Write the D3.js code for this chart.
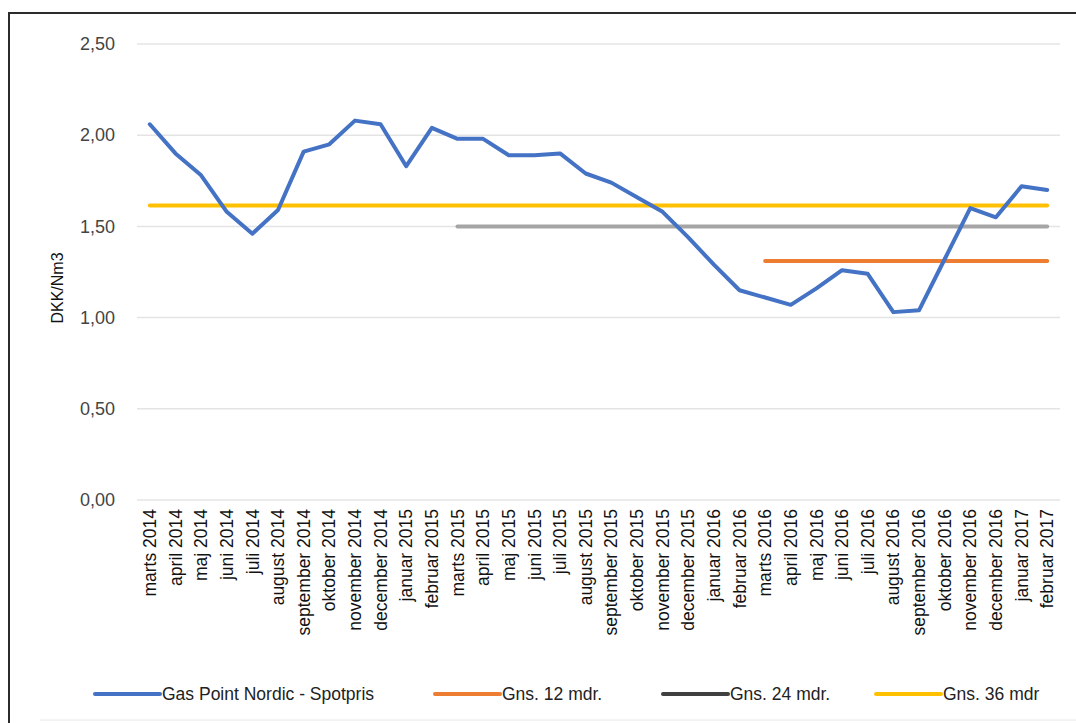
<!DOCTYPE html>
<html>
<head>
<meta charset="utf-8">
<script src="https://cdn.jsdelivr.net/npm/d3@7"></script>
<style>
  body { margin: 0; background: #fff; }
  svg { display: block; }
</style>
</head>
<body>
<svg id="chart"></svg>
<script>
const width = 1076;
const height = 723;

const months = [
  "marts 2014", "april 2014", "maj 2014", "juni 2014", "juli 2014", "august 2014",
  "september 2014", "oktober 2014", "november 2014", "december 2014", "januar 2015", "februar 2015",
  "marts 2015", "april 2015", "maj 2015", "juni 2015", "juli 2015", "august 2015",
  "september 2015", "oktober 2015", "november 2015", "december 2015", "januar 2016", "februar 2016",
  "marts 2016", "april 2016", "maj 2016", "juni 2016", "juli 2016", "august 2016",
  "september 2016", "oktober 2016", "november 2016", "december 2016", "januar 2017", "februar 2017"
];

const spotPrice = [
  2.06, 1.90, 1.78, 1.58, 1.46, 1.59,
  1.91, 1.95, 2.08, 2.06, 1.83, 2.04,
  1.98, 1.98, 1.89, 1.89, 1.90, 1.79,
  1.74, 1.66, 1.58, 1.44, 1.29, 1.15,
  1.11, 1.07, 1.16, 1.26, 1.24, 1.03,
  1.04, 1.32, 1.60, 1.55, 1.72, 1.70
];

// averages: value and first month they are drawn from
const avg12 = { value: 1.31, from: "marts 2016" };
const avg24 = { value: 1.50, from: "marts 2015" };
const avg36 = { value: 1.615, from: "marts 2014" };

const yTicks = [0, 0.5, 1.0, 1.5, 2.0, 2.5];

const legendItems = [
  { label: "Gas Point Nordic - Spotpris", color: "#4472c4", x: 95 },
  { label: "Gns. 12 mdr.", color: "#ed7d31", x: 435 },
  { label: "Gns. 24 mdr.", color: "#404040", x: 663 },
  { label: "Gns. 36 mdr", color: "#ffc000", x: 876 }
];

const margin = { top: 44, right: 16, bottom: 223, left: 137 };
const narrow = "'Liberation Sans Narrow', 'Arial Narrow', sans-serif";

const svg = d3.select("#chart")
  .attr("width", width)
  .attr("height", height);

// outer frame (only left and top visible in reference)
svg.append("path")
  .attr("d", `M9,${height} V13 H${width}`)
  .attr("fill", "none")
  .attr("stroke", "#2b2b2b")
  .attr("stroke-width", 2);

const x = d3.scaleBand()
  .domain(months)
  .range([margin.left, width - margin.right]);

const y = d3.scaleLinear()
  .domain([0, 2.5])
  .range([height - margin.bottom, margin.top]);

const cx = d => x(d) + x.bandwidth() / 2;

// gridlines
svg.append("g")
  .selectAll("line")
  .data(yTicks)
  .join("line")
  .attr("x1", margin.left)
  .attr("x2", width - margin.right)
  .attr("y1", d => y(d))
  .attr("y2", d => y(d))
  .attr("stroke", "#e4e4e4")
  .attr("stroke-width", 1.5);

// y axis
const yAxis = svg.append("g")
  .attr("transform", `translate(${margin.left},0)`)
  .call(d3.axisLeft(y).tickValues(yTicks).tickSize(0).tickPadding(22)
    .tickFormat(d => d3.format(".2f")(d).replace(".", ",")));
yAxis.select(".domain").remove();
yAxis.selectAll("text")
  .attr("fill", "#444")
  .attr("font-size", 18)
  .attr("font-family", "'Liberation Sans', sans-serif");

svg.append("text")
  .attr("transform", "translate(63,288) rotate(-90)")
  .attr("text-anchor", "middle")
  .attr("fill", "#111")
  .attr("font-family", "'Liberation Sans', sans-serif")
  .attr("font-size", 16)
  .text("DKK/Nm3");

// x axis
const xAxis = svg.append("g")
  .attr("transform", `translate(0,${height - margin.bottom})`)
  .call(d3.axisBottom(x).tickSize(0));
xAxis.select(".domain").remove();
xAxis.selectAll("text")
  .attr("fill", "#111")
  .attr("font-size", 17.5)
  .attr("font-family", narrow)
  .attr("text-anchor", "end")
  .attr("dy", "0.35em")
  .attr("transform", "rotate(-90)")
  .attr("x", -9)
  .attr("y", 0);

// average lines
const avgLines = [
  { d: avg36, color: "#ffc000" },
  { d: avg24, color: "#a5a5a5" },
  { d: avg12, color: "#ed7d31" }
];
svg.append("g")
  .selectAll("line")
  .data(avgLines)
  .join("line")
  .attr("x1", a => cx(a.d.from))
  .attr("x2", cx(months[months.length - 1]))
  .attr("y1", a => y(a.d.value))
  .attr("y2", a => y(a.d.value))
  .attr("stroke", a => a.color)
  .attr("stroke-width", 4)
  .attr("stroke-linecap", "round");

// spot price line
const line = d3.line()
  .x((d, i) => cx(months[i]))
  .y(d => y(d));

svg.append("path")
  .datum(spotPrice)
  .attr("d", line)
  .attr("fill", "none")
  .attr("stroke", "#4472c4")
  .attr("stroke-width", 4)
  .attr("stroke-linejoin", "round")
  .attr("stroke-linecap", "round");

// legend
const legend = svg.append("g")
  .attr("transform", "translate(0,694)");

const li = legend.selectAll("g")
  .data(legendItems)
  .join("g")
  .attr("transform", d => `translate(${d.x},0)`);

li.append("line")
  .attr("x1", 0)
  .attr("x2", 65)
  .attr("stroke", d => d.color)
  .attr("stroke-width", 4)
  .attr("stroke-linecap", "round");

li.append("text")
  .attr("x", 67)
  .attr("dy", "0.35em")
  .attr("fill", "#222")
  .attr("font-family", narrow)
  .attr("font-size", 17.5)
  .text(d => d.label);

// faint bottom line
svg.append("line")
  .attr("x1", 40).attr("x2", width)
  .attr("y1", 720).attr("y2", 720)
  .attr("stroke", "#e8e8e8");
</script>
</body>
</html>
